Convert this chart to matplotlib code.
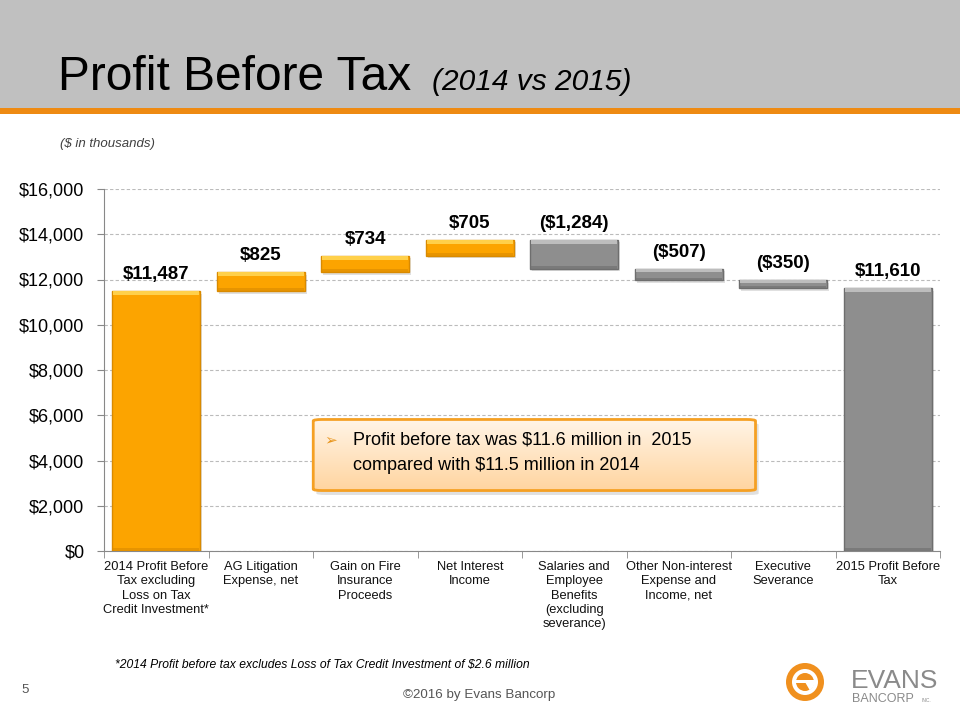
import matplotlib
matplotlib.use("Agg")
import matplotlib.pyplot as plt
from matplotlib.patches import Rectangle, FancyBboxPatch, Circle, Wedge
import matplotlib.colors as mcolors
import numpy as np

plt.rcParams['font.family'] = ['Liberation Sans', 'DejaVu Sans']

categories = [
    "2014 Profit Before\nTax excluding\nLoss on Tax\nCredit Investment*",
    "AG Litigation\nExpense, net",
    "Gain on Fire\nInsurance\nProceeds",
    "Net Interest\nIncome",
    "Salaries and\nEmployee\nBenefits\n(excluding\nseverance)",
    "Other Non-interest\nExpense and\nIncome, net",
    "Executive\nSeverance",
    "2015 Profit Before\nTax",
]
values = [11487, 825, 734, 705, -1284, -507, -350, 11610]
labels = ["$11,487", "$825", "$734", "$705", "($1,284)", "($507)", "($350)", "$11,610"]
is_total = [True, False, False, False, False, False, False, True]
yticks = [0, 2000, 4000, 6000, 8000, 10000, 12000, 14000, 16000]
ytick_labels = ["$0", "$2,000", "$4,000", "$6,000", "$8,000", "$10,000", "$12,000", "$14,000", "$16,000"]

W, H = 960, 720
fig = plt.figure(figsize=(9.6, 7.2), dpi=100)

def fx(px):
    return px / W

def fy(py):
    return 1 - py / H

# Header band
fig.patches.append(Rectangle((0, fy(108)), 1, 108 / H, transform=fig.transFigure,
                             facecolor="#C0C0C0", edgecolor="none", zorder=0))
fig.patches.append(Rectangle((0, fy(114)), 1, 6 / H, transform=fig.transFigure,
                             facecolor="#EE8A12", edgecolor="none", zorder=1))
fig.text(fx(58), fy(90), "Profit Before Tax", fontsize=34.5, color="black",
         ha="left", va="baseline")
fig.text(fx(432), fy(90), "(2014 vs 2015)", fontsize=21.5, style="italic",
         color="black", ha="left", va="baseline")
fig.text(fx(60), fy(144), "($ in thousands)", fontsize=9.5, style="italic",
         color="#404040", ha="left", va="center")

# Axes
ax = fig.add_axes([fx(104), fy(551), fx(940) - fx(104), (551 - 189) / H])
ax.set_xlim(-0.5, len(categories) - 0.5)
ax.set_ylim(0, 16000)
ax.set_yticks(yticks)
ax.set_yticklabels(ytick_labels, fontsize=13)
ax.set_xticks(range(len(categories)))
ax.set_xticklabels(categories, fontsize=9.3, linespacing=1.27, color="#111111")
ax.tick_params(axis="x", length=0, pad=7)
ax.tick_params(axis="y", length=5, color="#888888", pad=9)
ax.set_xticks(np.arange(-0.5, len(categories), 1.0), minor=True)
ax.tick_params(axis="x", which="minor", length=5, color="#888888")
ax.grid(axis="y", linestyle=(0, (3, 2)), color="#BBBBBB", linewidth=0.8, zorder=0)
ax.set_axisbelow(True)
for s in ["top", "right"]:
    ax.spines[s].set_visible(False)
ax.spines["left"].set_color("#888888")
ax.spines["bottom"].set_color("#888888")

orange = "#FCA400"
orange_dark = "#D98A00"
orange_light = "#FFD04A"
gray = "#8E8E8E"
gray_dark = "#6E6E6E"
gray_light = "#BDBDBD"

# compute waterfall
bottoms, heights = [], []
running = 0
for v, tot in zip(values, is_total):
    if tot:
        bottoms.append(0)
        heights.append(v)
        running = v
    else:
        if v >= 0:
            bottoms.append(running)
            heights.append(v)
        else:
            bottoms.append(running + v)
            heights.append(-v)
        running += v

width = 0.84
unit = 16000 / 362.0  # data units per pixel
for i, (b, h, v) in enumerate(zip(bottoms, heights, values)):
    pos = (i < 4)
    fc = orange if pos else gray
    dk = orange_dark if pos else gray_dark
    lt = orange_light if pos else gray_light
    # shadow
    ax.bar(i + 0.02, h, width, bottom=b - 2.5 * unit, color="#000000", alpha=0.12,
           zorder=2, linewidth=0)
    ax.bar(i, h, width, bottom=b, color=fc, edgecolor=dk, linewidth=1.0, zorder=3)
    # bevel highlight at top
    hl = min(4 * unit, h * 0.3)
    ax.bar(i, hl, width * 0.985, bottom=b + h - hl, color=lt, linewidth=0, zorder=4)
    # bevel dark at bottom
    dl = min(3 * unit, h * 0.25)
    ax.bar(i, dl, width * 0.985, bottom=b, color=dk, linewidth=0, zorder=4, alpha=0.6)
    ax.text(i, b + h + 8 * unit, labels[i], ha="center", va="bottom",
            fontsize=13.5, fontweight="bold", color="black", zorder=5)

# Callout box
bx0, by0, bx1, by1 = 311, 418, 760, 492
box_ax = fig.add_axes([fx(bx0), fy(by1), fx(bx1) - fx(bx0), (by1 - by0) / H])
box_ax.set_xlim(0, 1)
box_ax.set_ylim(0, 1)
box_ax.axis("off")
grad = np.linspace(0, 1, 256).reshape(-1, 1)
cmap = mcolors.LinearSegmentedColormap.from_list("g", ["#FFF5E8", "#FFD49E"])
shadow = FancyBboxPatch((0.012, -0.04), 0.985, 0.97, boxstyle="round,pad=0,rounding_size=0.02",
                        transform=box_ax.transAxes, facecolor="#000000", alpha=0.12,
                        edgecolor="none", clip_on=False)
box_ax.add_patch(shadow)
im = box_ax.imshow(grad, extent=[0, 1, 0, 1], aspect="auto", cmap=cmap, origin="upper", zorder=1)
frame = FancyBboxPatch((0.005, 0.02), 0.985, 0.96, boxstyle="round,pad=0,rounding_size=0.02",
                       transform=box_ax.transAxes, facecolor="none", edgecolor="#F5A023",
                       linewidth=2.0, zorder=2)
box_ax.add_patch(frame)
im.set_clip_path(frame)
box_ax.text(0.03, 0.70, "\u27a2", fontsize=11, color="#E8961E", ha="left", va="center",
            family=["DejaVu Sans"], zorder=3)
box_ax.text(0.094, 0.70, "Profit before tax was $11.6 million in  2015", fontsize=13,
            ha="left", va="center", color="black", zorder=3)
box_ax.text(0.094, 0.36, "compared with $11.5 million in 2014", fontsize=13,
            ha="left", va="center", color="black", zorder=3)

# Footer
fig.text(fx(115), fy(665), "*2014 Profit before tax excludes Loss of Tax Credit Investment of $2.6 million",
         fontsize=8.7, style="italic", ha="left", va="center", color="black")
fig.text(fx(25), fy(690), "5", fontsize=9.5, ha="center", va="center", color="#555555")
fig.text(fx(479), fy(695), "\u00a92016 by Evans Bancorp", fontsize=9.6, ha="center",
         va="center", color="#555555")

# Logo (axes units = pixels; x = px-775, y = 715-py)
logo_ax = fig.add_axes([fx(775), fy(715), fx(955) - fx(775), 60 / H])
logo_ax.set_xlim(0, 180)
logo_ax.set_ylim(0, 60)
logo_ax.set_aspect("equal")
logo_ax.axis("off")
logo_ax.add_patch(Circle((30, 33), 19, facecolor="#F0901E", edgecolor="none"))
logo_ax.add_patch(Circle((30, 33), 13, facecolor="white", edgecolor="none"))
logo_ax.add_patch(Circle((30, 33), 9, facecolor="#F0901E", edgecolor="none"))
logo_ax.add_patch(Rectangle((21, 32), 18, 2.8, facecolor="white", edgecolor="none"))
logo_ax.add_patch(Wedge((30, 33), 9.5, 300, 360, facecolor="white", edgecolor="none"))
logo_ax.text(76, 34, "EVANS", fontsize=19, color="#8A8A8A", ha="left", va="center")
logo_ax.text(77, 16, "BANCORP", fontsize=9, color="#8A8A8A", ha="left", va="center")
logo_ax.text(146, 15, "INC.", fontsize=3.5, color="#8A8A8A", ha="left", va="center")

fig.savefig("out.png", dpi=100)
